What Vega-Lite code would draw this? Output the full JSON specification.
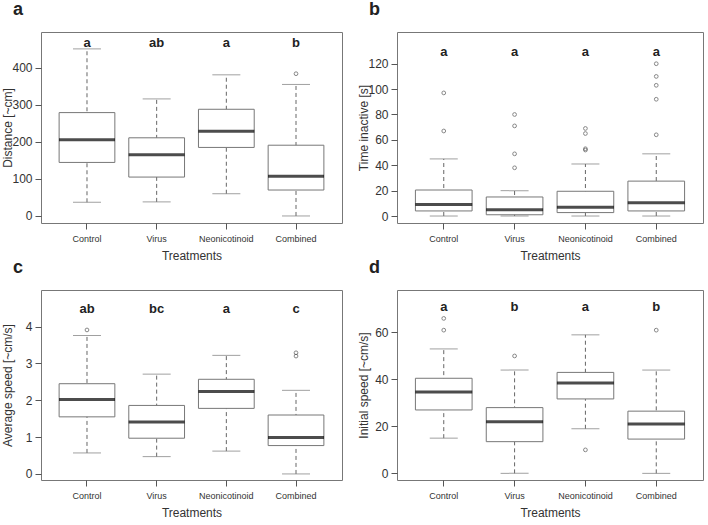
{
  "$schema": "https://vega.github.io/schema/vega-lite/v6.json",
  "background": "white",
  "padding": {"left": 0, "top": 0, "right": 0, "bottom": 0},
  "datasets": {
    "boxA": [
      {"treatment": "Control", "lower": 37, "q1": 144.5, "median": 206, "q3": 279, "upper": 451, "letter": "a"},
      {"treatment": "Virus", "lower": 38, "q1": 105, "median": 165, "q3": 211, "upper": 316, "letter": "ab"},
      {"treatment": "Neonicotinoid", "lower": 60, "q1": 185, "median": 229, "q3": 288, "upper": 381, "letter": "a"},
      {"treatment": "Combined", "lower": 0, "q1": 70, "median": 107, "q3": 191, "upper": 355, "letter": "b"}
    ],
    "outA": [
      {"treatment": "Combined", "value": 384}
    ],
    "boxB": [
      {"treatment": "Control", "lower": 0, "q1": 4, "median": 9, "q3": 20.5, "upper": 45, "letter": "a"},
      {"treatment": "Virus", "lower": 0, "q1": 1, "median": 5, "q3": 15, "upper": 20, "letter": "a"},
      {"treatment": "Neonicotinoid", "lower": 0, "q1": 2.7, "median": 7, "q3": 19.5, "upper": 41, "letter": "a"},
      {"treatment": "Combined", "lower": 0, "q1": 4, "median": 10.5, "q3": 27.5, "upper": 49, "letter": "a"}
    ],
    "outB": [
      {"treatment": "Control", "value": 97},
      {"treatment": "Control", "value": 67},
      {"treatment": "Virus", "value": 80},
      {"treatment": "Virus", "value": 71},
      {"treatment": "Virus", "value": 49},
      {"treatment": "Virus", "value": 38},
      {"treatment": "Neonicotinoid", "value": 69},
      {"treatment": "Neonicotinoid", "value": 65},
      {"treatment": "Neonicotinoid", "value": 52},
      {"treatment": "Neonicotinoid", "value": 53},
      {"treatment": "Combined", "value": 120},
      {"treatment": "Combined", "value": 110},
      {"treatment": "Combined", "value": 103},
      {"treatment": "Combined", "value": 92},
      {"treatment": "Combined", "value": 64}
    ],
    "boxC": [
      {"treatment": "Control", "lower": 0.57, "q1": 1.55, "median": 2.02, "q3": 2.45, "upper": 3.76, "letter": "ab"},
      {"treatment": "Virus", "lower": 0.47, "q1": 0.97, "median": 1.41, "q3": 1.86, "upper": 2.71, "letter": "bc"},
      {"treatment": "Neonicotinoid", "lower": 0.62, "q1": 1.78, "median": 2.24, "q3": 2.57, "upper": 3.22, "letter": "a"},
      {"treatment": "Combined", "lower": 0, "q1": 0.77, "median": 0.99, "q3": 1.6, "upper": 2.27, "letter": "c"}
    ],
    "outC": [
      {"treatment": "Control", "value": 3.91},
      {"treatment": "Combined", "value": 3.29},
      {"treatment": "Combined", "value": 3.2}
    ],
    "boxD": [
      {"treatment": "Control", "lower": 15, "q1": 27, "median": 34.7, "q3": 40.5, "upper": 53, "letter": "a"},
      {"treatment": "Virus", "lower": 0, "q1": 13.5, "median": 22, "q3": 28, "upper": 44, "letter": "b"},
      {"treatment": "Neonicotinoid", "lower": 19, "q1": 31.7, "median": 38.5, "q3": 43, "upper": 59, "letter": "a"},
      {"treatment": "Combined", "lower": 0, "q1": 14.6, "median": 21, "q3": 26.5, "upper": 44, "letter": "b"}
    ],
    "outD": [
      {"treatment": "Control", "value": 66},
      {"treatment": "Control", "value": 61},
      {"treatment": "Virus", "value": 50},
      {"treatment": "Neonicotinoid", "value": 10},
      {"treatment": "Combined", "value": 61}
    ]
  },
  "config": {
    "font": "Liberation Sans",
    "view": {"stroke": "#777", "strokeWidth": 1},
    "axis": {
      "domain": false, "grid": false,
      "tickColor": "#555", "tickSize": 6,
      "labelColor": "#333", "titleColor": "#333",
      "labelFont": "Liberation Sans", "titleFont": "Liberation Sans",
      "titleFontWeight": "normal", "titleFontSize": 12, "labelOverlap": false
    },
    "axisY": {"labelFontSize": 12, "labelPadding": 3, "titlePadding": 1, "minExtent": 26, "maxExtent": 26},
    "axisX": {"labelFontSize": 9, "labelAngle": 0, "labelPadding": 5, "titlePadding": 7, "bandPosition": 0.5},
    "title": {"anchor": "start", "frame": "bounds", "fontSize": 18, "fontWeight": "bold", "color": "#222", "font": "Liberation Sans", "offset": 13, "dx": 12}
  },
  "vconcat": [
    {
      "hconcat": [
        {
          "title": "a",
          "width": 301, "height": 191,
          "encoding": {
            "x": {"field": "treatment", "type": "nominal", "sort": null,
                  "scale": {"domain": ["Control", "Virus", "Neonicotinoid", "Combined"], "paddingInner": 0.2, "paddingOuter": 0.26},
                  "axis": {"title": "Treatments"}}
          },
          "layer": [
            {"data": {"name": "boxA"}, "mark": {"type": "rule", "color": "#666", "strokeDash": [4, 3]},
             "encoding": {"y": {"field": "lower", "type": "quantitative", "scale": {"domain": [-19, 496.6], "nice": false, "zero": false},
                                "axis": {"title": "Distance [~cm]", "values": [0, 100, 200, 300, 400], "labelOverlap": false}},
                          "y2": {"field": "upper"}}},
            {"data": {"name": "boxA"}, "mark": {"type": "bar", "fill": "white", "stroke": "#777", "strokeWidth": 1},
             "encoding": {"y": {"field": "q1", "type": "quantitative", "axis": {"title": "Distance [~cm]", "values": [0, 100, 200, 300, 400], "labelOverlap": false}}, "y2": {"field": "q3"}}},
            {"data": {"name": "boxA"}, "mark": {"type": "tick", "color": "#000", "thickness": 3, "size": 56},
             "encoding": {"y": {"field": "median", "type": "quantitative", "axis": {"title": "Distance [~cm]", "values": [0, 100, 200, 300, 400], "labelOverlap": false}}}},
            {"data": {"name": "boxA"}, "mark": {"type": "tick", "color": "#777", "thickness": 1, "size": 28},
             "encoding": {"y": {"field": "upper", "type": "quantitative", "axis": {"title": "Distance [~cm]", "values": [0, 100, 200, 300, 400], "labelOverlap": false}}}},
            {"data": {"name": "boxA"}, "mark": {"type": "tick", "color": "#777", "thickness": 1, "size": 28},
             "encoding": {"y": {"field": "lower", "type": "quantitative", "axis": {"title": "Distance [~cm]", "values": [0, 100, 200, 300, 400], "labelOverlap": false}}}},
            {"data": {"name": "outA"}, "mark": {"type": "point", "filled": false, "color": "#555", "size": 14, "strokeWidth": 1},
             "encoding": {"y": {"field": "value", "type": "quantitative", "axis": {"title": "Distance [~cm]", "values": [0, 100, 200, 300, 400], "labelOverlap": false}}}},
            {"data": {"name": "boxA"}, "mark": {"type": "text", "fontWeight": "bold", "fontSize": 13, "color": "#222", "baseline": "middle"},
             "encoding": {"y": {"datum": 467, "type": "quantitative", "axis": {"title": "Distance [~cm]", "values": [0, 100, 200, 300, 400], "labelOverlap": false}}, "text": {"field": "letter"}}}
          ]
        },
        {
          "title": "b",
          "width": 306, "height": 191,
          "encoding": {
            "x": {"field": "treatment", "type": "nominal", "sort": null,
                  "scale": {"domain": ["Control", "Virus", "Neonicotinoid", "Combined"], "paddingInner": 0.2, "paddingOuter": 0.26},
                  "axis": {"title": "Treatments"}}
          },
          "layer": [
            {"data": {"name": "boxB"}, "mark": {"type": "rule", "color": "#666", "strokeDash": [4, 3]},
             "encoding": {"y": {"field": "lower", "type": "quantitative", "scale": {"domain": [-5.5, 145], "nice": false, "zero": false},
                                "axis": {"title": "Time inactive [s]", "values": [0, 20, 40, 60, 80, 100, 120], "labelOverlap": false}},
                          "y2": {"field": "upper"}}},
            {"data": {"name": "boxB"}, "mark": {"type": "bar", "fill": "white", "stroke": "#777", "strokeWidth": 1},
             "encoding": {"y": {"field": "q1", "type": "quantitative", "axis": {"title": "Time inactive [s]", "values": [0, 20, 40, 60, 80, 100, 120], "labelOverlap": false}}, "y2": {"field": "q3"}}},
            {"data": {"name": "boxB"}, "mark": {"type": "tick", "color": "#000", "thickness": 3, "size": 57},
             "encoding": {"y": {"field": "median", "type": "quantitative", "axis": {"title": "Time inactive [s]", "values": [0, 20, 40, 60, 80, 100, 120], "labelOverlap": false}}}},
            {"data": {"name": "boxB"}, "mark": {"type": "tick", "color": "#777", "thickness": 1, "size": 28},
             "encoding": {"y": {"field": "upper", "type": "quantitative", "axis": {"title": "Time inactive [s]", "values": [0, 20, 40, 60, 80, 100, 120], "labelOverlap": false}}}},
            {"data": {"name": "boxB"}, "mark": {"type": "tick", "color": "#777", "thickness": 1, "size": 28},
             "encoding": {"y": {"field": "lower", "type": "quantitative", "axis": {"title": "Time inactive [s]", "values": [0, 20, 40, 60, 80, 100, 120], "labelOverlap": false}}}},
            {"data": {"name": "outB"}, "mark": {"type": "point", "filled": false, "color": "#555", "size": 14, "strokeWidth": 1},
             "encoding": {"y": {"field": "value", "type": "quantitative", "axis": {"title": "Time inactive [s]", "values": [0, 20, 40, 60, 80, 100, 120], "labelOverlap": false}}}},
            {"data": {"name": "boxB"}, "mark": {"type": "text", "fontWeight": "bold", "fontSize": 13, "color": "#222", "baseline": "middle"},
             "encoding": {"y": {"datum": 129, "type": "quantitative", "axis": {"title": "Time inactive [s]", "values": [0, 20, 40, 60, 80, 100, 120], "labelOverlap": false}}, "text": {"field": "letter"}}}
          ]
        }
      ],
      "spacing": 13
    },
    {
      "hconcat": [
        {
          "title": "c",
          "width": 301, "height": 190,
          "encoding": {
            "x": {"field": "treatment", "type": "nominal", "sort": null,
                  "scale": {"domain": ["Control", "Virus", "Neonicotinoid", "Combined"], "paddingInner": 0.2, "paddingOuter": 0.26},
                  "axis": {"title": "Treatments"}}
          },
          "layer": [
            {"data": {"name": "boxC"}, "mark": {"type": "rule", "color": "#666", "strokeDash": [4, 3]},
             "encoding": {"y": {"field": "lower", "type": "quantitative", "scale": {"domain": [-0.165, 4.995], "nice": false, "zero": false},
                                "axis": {"title": "Average speed [~cm/s]", "values": [0, 1, 2, 3, 4], "labelOverlap": false}},
                          "y2": {"field": "upper"}}},
            {"data": {"name": "boxC"}, "mark": {"type": "bar", "fill": "white", "stroke": "#777", "strokeWidth": 1},
             "encoding": {"y": {"field": "q1", "type": "quantitative", "axis": {"title": "Average speed [~cm/s]", "values": [0, 1, 2, 3, 4], "labelOverlap": false}}, "y2": {"field": "q3"}}},
            {"data": {"name": "boxC"}, "mark": {"type": "tick", "color": "#000", "thickness": 3, "size": 56},
             "encoding": {"y": {"field": "median", "type": "quantitative", "axis": {"title": "Average speed [~cm/s]", "values": [0, 1, 2, 3, 4], "labelOverlap": false}}}},
            {"data": {"name": "boxC"}, "mark": {"type": "tick", "color": "#777", "thickness": 1, "size": 28},
             "encoding": {"y": {"field": "upper", "type": "quantitative", "axis": {"title": "Average speed [~cm/s]", "values": [0, 1, 2, 3, 4], "labelOverlap": false}}}},
            {"data": {"name": "boxC"}, "mark": {"type": "tick", "color": "#777", "thickness": 1, "size": 28},
             "encoding": {"y": {"field": "lower", "type": "quantitative", "axis": {"title": "Average speed [~cm/s]", "values": [0, 1, 2, 3, 4], "labelOverlap": false}}}},
            {"data": {"name": "outC"}, "mark": {"type": "point", "filled": false, "color": "#555", "size": 14, "strokeWidth": 1},
             "encoding": {"y": {"field": "value", "type": "quantitative", "axis": {"title": "Average speed [~cm/s]", "values": [0, 1, 2, 3, 4], "labelOverlap": false}}}},
            {"data": {"name": "boxC"}, "mark": {"type": "text", "fontWeight": "bold", "fontSize": 13, "color": "#222", "baseline": "middle"},
             "encoding": {"y": {"datum": 4.48, "type": "quantitative", "axis": {"title": "Average speed [~cm/s]", "values": [0, 1, 2, 3, 4], "labelOverlap": false}}, "text": {"field": "letter"}}}
          ]
        },
        {
          "title": "d",
          "width": 306, "height": 190,
          "encoding": {
            "x": {"field": "treatment", "type": "nominal", "sort": null,
                  "scale": {"domain": ["Control", "Virus", "Neonicotinoid", "Combined"], "paddingInner": 0.2, "paddingOuter": 0.26},
                  "axis": {"title": "Treatments"}}
          },
          "layer": [
            {"data": {"name": "boxD"}, "mark": {"type": "rule", "color": "#666", "strokeDash": [4, 3]},
             "encoding": {"y": {"field": "lower", "type": "quantitative", "scale": {"domain": [-2.83, 78.1], "nice": false, "zero": false},
                                "axis": {"title": "Initial speed [~cm/s]", "values": [0, 20, 40, 60], "labelOverlap": false}},
                          "y2": {"field": "upper"}}},
            {"data": {"name": "boxD"}, "mark": {"type": "bar", "fill": "white", "stroke": "#777", "strokeWidth": 1},
             "encoding": {"y": {"field": "q1", "type": "quantitative", "axis": {"title": "Initial speed [~cm/s]", "values": [0, 20, 40, 60], "labelOverlap": false}}, "y2": {"field": "q3"}}},
            {"data": {"name": "boxD"}, "mark": {"type": "tick", "color": "#000", "thickness": 3, "size": 57},
             "encoding": {"y": {"field": "median", "type": "quantitative", "axis": {"title": "Initial speed [~cm/s]", "values": [0, 20, 40, 60], "labelOverlap": false}}}},
            {"data": {"name": "boxD"}, "mark": {"type": "tick", "color": "#777", "thickness": 1, "size": 28},
             "encoding": {"y": {"field": "upper", "type": "quantitative", "axis": {"title": "Initial speed [~cm/s]", "values": [0, 20, 40, 60], "labelOverlap": false}}}},
            {"data": {"name": "boxD"}, "mark": {"type": "tick", "color": "#777", "thickness": 1, "size": 28},
             "encoding": {"y": {"field": "lower", "type": "quantitative", "axis": {"title": "Initial speed [~cm/s]", "values": [0, 20, 40, 60], "labelOverlap": false}}}},
            {"data": {"name": "outD"}, "mark": {"type": "point", "filled": false, "color": "#555", "size": 14, "strokeWidth": 1},
             "encoding": {"y": {"field": "value", "type": "quantitative", "axis": {"title": "Initial speed [~cm/s]", "values": [0, 20, 40, 60], "labelOverlap": false}}}},
            {"data": {"name": "boxD"}, "mark": {"type": "text", "fontWeight": "bold", "fontSize": 13, "color": "#222", "baseline": "middle"},
             "encoding": {"y": {"datum": 71, "type": "quantitative", "axis": {"title": "Initial speed [~cm/s]", "values": [0, 20, 40, 60], "labelOverlap": false}}, "text": {"field": "letter"}}}
          ]
        }
      ],
      "spacing": 13
    }
  ],
  "spacing": -4
}
